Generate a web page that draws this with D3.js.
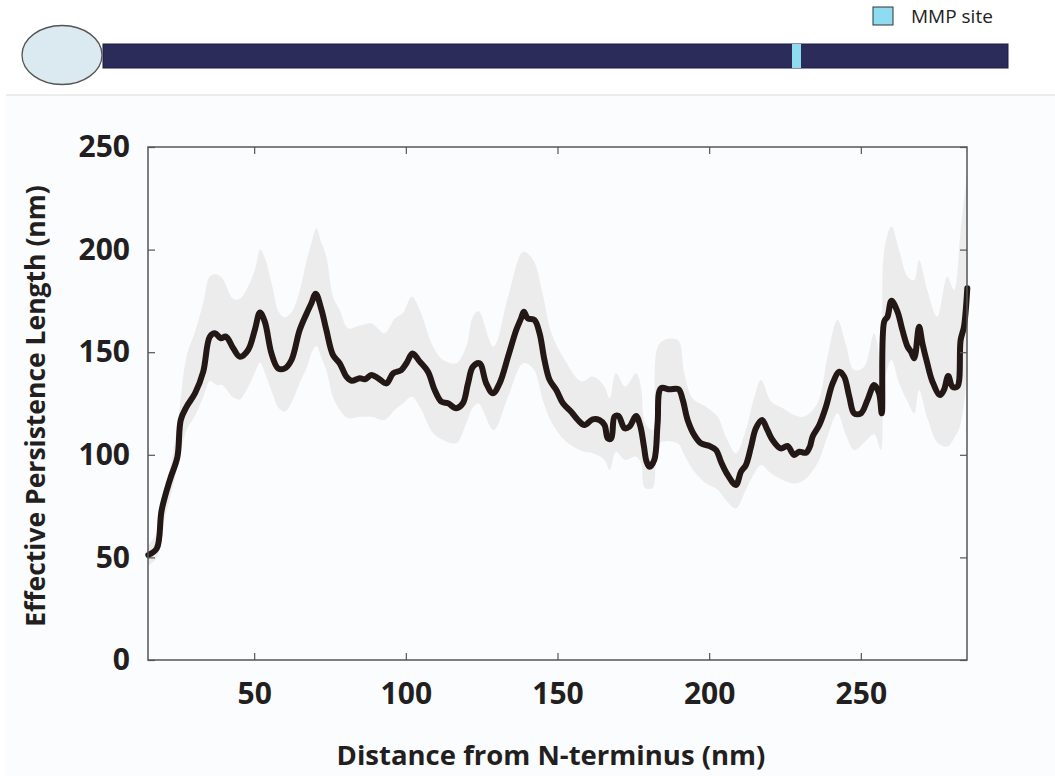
<!DOCTYPE html>
<html>
<head>
    <title>Effective Persistence Length</title>
    <script src="https://d3js.org/d3.v7.min.js"></script>
    <style>
        body { margin: 0; background: #ffffff; }
        text { font-family: "Open Sans", "DejaVu Sans", sans-serif; }
        .tick line { stroke: #555; stroke-width: 1.2; }
        .tick text { fill: #231f20; font-weight: 700; }
    </style>
</head>
<body>
<div id="chart"></div>
<script>
    // Mean persistence length along the molecule
    const distance = [15.1, 17.9, 19.5, 22.2, 24.7, 25.8, 27.7, 30.5, 33.2, 35.4, 37.1, 39, 40.7, 43.1, 45.3, 48, 50.2, 51.9, 53.5, 55.7, 57.9, 60.1, 62.3, 65, 67.3, 68.9, 70.3, 72.2, 73.8, 76, 78.2, 80.4, 82.1, 84.8, 86.5, 88.7, 90.9, 93.6, 95.8, 98.5, 100.2, 102.2, 104.6, 107.3, 109.5, 111.7, 113.9, 116.6, 118.8, 120.5, 122.1, 124.3, 126.5, 128.7, 130.9, 133.7, 136.4, 138, 138.9, 140.2, 142.4, 144.1, 145.7, 147.4, 149.6, 151.8, 154.5, 156.7, 158.9, 161.6, 163.8, 165.5, 166.6, 167.7, 168.8, 170.1, 172.1, 173.7, 175.9, 177.3, 178.5, 179.3, 180.3, 181.9, 183, 184.1, 186.9, 189.9, 191.3, 192.9, 195.1, 197.3, 200.1, 202.3, 203.9, 206.1, 208.8, 210.5, 212.1, 213.8, 215.4, 217.4, 219.2, 220.9, 223.6, 225.8, 228, 229.7, 231.9, 233.2, 234.1, 236.3, 238.5, 240.7, 242.9, 244.5, 246.2, 247.8, 250, 252.2, 254.4, 256, 256.9, 257.7, 258.8, 260.1, 262.1, 263.7, 265.4, 266.5, 267.6, 269.2, 270.3, 271.9, 273.6, 276.1, 277.4, 278.8, 280.2, 281.8, 282.9, 284, 285.1];
    const meanLp = [51.2, 54.4, 73, 87.7, 99, 117, 123.4, 130, 140.5, 157.6, 159.2, 156.8, 157.6, 151.9, 147.8, 151.1, 160.8, 169.3, 164.9, 149.4, 142.1, 142.1, 146.2, 160.8, 168.9, 174, 178.5, 170.6, 160.8, 148.6, 144.6, 138.1, 136.1, 137.3, 136.8, 138.9, 137.3, 134.8, 139.7, 141.3, 144.6, 149.4, 145.4, 140.5, 131.6, 125.9, 125.1, 122.7, 125.1, 134.8, 142.9, 144.6, 134.8, 130, 134.8, 147.8, 160.8, 166.5, 169.7, 166.5, 165.7, 159.2, 146.2, 136.5, 131.6, 125.1, 121, 117, 114.5, 117.3, 117, 114.5, 108, 108, 118.6, 118.9, 112.9, 113.7, 118.9, 114, 104, 97, 94.2, 97.5, 115.3, 132.4, 131.9, 131.9, 126.7, 117, 109.6, 105.6, 104.3, 102.3, 96.6, 90.2, 85.3, 91.8, 95, 103.9, 112.9, 117, 112.1, 107.2, 103.1, 104.3, 99.9, 101.5, 101, 104, 108.9, 114.5, 123.4, 134.8, 140.5, 138.1, 128.3, 120.2, 120.2, 126.7, 134, 130, 120.2, 164.9, 167.3, 175.1, 169.7, 160.8, 152.7, 150.3, 147, 162.4, 154.3, 144.6, 135.7, 129.1, 131.6, 138.4, 133.2, 133.2, 155.9, 162.4, 181.2];

    // Spread band (upper / lower)
    const bandX = [15, 18, 20, 22.5, 25, 27.7, 30.5, 33.2, 35.4, 37.5, 39.5, 43, 45.3, 48, 50.2, 52, 53.5, 56, 58, 60, 62.5, 65, 67.5, 69, 70.5, 72, 73.8, 76, 78.2, 81, 84.8, 88.7, 93, 96.4, 99, 102, 104.6, 109, 112.3, 116.6, 119.9, 122.1, 124, 128.9, 133.7, 138.7, 142, 145.3, 148, 152.4, 157.9, 161.7, 165.5, 167.2, 169.3, 172.3, 175.9, 177.5, 178.8, 181.4, 183.6, 189.6, 191.8, 194.5, 198.9, 202.8, 205.5, 208.8, 212.1, 214.9, 217.1, 220.4, 224.3, 228, 231.3, 235.7, 239, 242.3, 245, 247.8, 251.1, 254.4, 256.6, 257.7, 260.1, 262.6, 265.4, 267.6, 269.2, 271.9, 275.2, 278.5, 280.7, 282.9, 285.1];
    const bandUpper = [56, 62, 80, 95, 118, 148, 160, 174, 187, 188, 186, 176, 176, 182, 190, 200, 196, 182, 170, 167, 170, 180, 196, 204, 210.5, 204, 196.5, 177, 170.6, 161.6, 163, 164, 159.2, 166.5, 169, 177, 170.6, 152.7, 146.2, 144.6, 152.7, 167.3, 170, 152.7, 177, 198.9, 194.9, 177, 159.2, 146.2, 135.7, 138.1, 133.2, 127.5, 139.7, 133.2, 139.7, 133, 116, 112, 154.3, 155.9, 139.7, 127.5, 123.4, 118.6, 108.9, 100.7, 112.1, 128.3, 136.5, 126, 122.7, 119.4, 118.6, 125.1, 147.8, 165.7, 154.3, 141.3, 142.9, 159.2, 144.6, 199.8, 211.2, 199.8, 186.8, 185.2, 194.9, 180.3, 167.3, 186.8, 180.3, 209.5, 237.2];
    const bandLower = [46, 50, 66, 80, 96, 112, 119, 128, 136, 134, 134, 128, 127, 133, 140, 145, 140, 130, 123, 121, 126, 135, 143, 150, 153, 148, 141.3, 128, 122, 117.8, 118.5, 118.6, 117, 122, 125, 128.3, 123.4, 110.5, 107.2, 105.6, 115.3, 123, 125, 112.1, 128.3, 144.6, 142, 126, 116, 107, 102, 100.7, 97.5, 92.6, 101.5, 97.5, 99.1, 96, 84, 84, 105.6, 105.6, 100, 93, 86.1, 83, 78, 73.9, 83, 91, 95, 91, 87.7, 86, 87.7, 95.9, 108.9, 120.2, 110, 102.3, 106, 110, 102.3, 134.8, 146.2, 135, 126, 120.2, 131.6, 118, 106, 104, 108, 115, 141.3];

    const xTicks = [50, 100, 150, 200, 250];
    const yTicks = [0, 50, 100, 150, 200, 250];

    const width = 1055;
    const height = 776;

    const svg = d3.select("#chart")
        .append("svg")
        .attr("width", width)
        .attr("height", height);

    // ---- schematic at the top ----
    svg.append("rect")
        .attr("x", 103).attr("y", 44)
        .attr("width", 905).attr("height", 24)
        .attr("fill", "#2b2c5a")
        .attr("stroke", "#1c1d3d")
        .attr("stroke-width", 1);

    svg.append("rect")
        .attr("x", 792).attr("y", 44)
        .attr("width", 9).attr("height", 24)
        .attr("fill", "#8fdcf0");

    svg.append("ellipse")
        .attr("cx", 62).attr("cy", 55)
        .attr("rx", 40).attr("ry", 29.5)
        .attr("fill", "#dbe9f1")
        .attr("stroke", "#555")
        .attr("stroke-width", 1.3);

    svg.append("rect")
        .attr("x", 873).attr("y", 7)
        .attr("width", 20).attr("height", 18)
        .attr("fill", "#8fdcf0")
        .attr("stroke", "#333")
        .attr("stroke-width", 1);

    svg.append("text")
        .attr("x", 911).attr("y", 23)
        .style("font-size", "19px")
        .style("fill", "#222")
        .text("MMP site");

    // ---- panel background ----
    svg.append("rect")
        .attr("x", 6).attr("y", 95)
        .attr("width", width - 6).attr("height", height - 95)
        .attr("fill", "#fbfcfe");
    svg.append("line")
        .attr("x1", 6).attr("x2", width)
        .attr("y1", 95).attr("y2", 95)
        .attr("stroke", "#dcdcdc");

    // ---- scales ----
    const x = d3.scaleLinear().domain([15, 285]).range([148, 967]);
    const y = d3.scaleLinear().domain([0, 250]).range([660, 147]);

    // band
    const band = d3.area()
        .x((d, i) => x(bandX[i]))
        .y0((d, i) => y(bandLower[i]))
        .y1((d, i) => y(bandUpper[i]))
        .curve(d3.curveCatmullRom.alpha(0.5));

    svg.append("path")
        .datum(bandX)
        .attr("d", band)
        .attr("fill", "#ececec");

    // mean line
    const line = d3.line()
        .x((d, i) => x(distance[i]))
        .y((d, i) => y(meanLp[i]))
        .curve(d3.curveCatmullRom.alpha(0.5));

    svg.append("path")
        .datum(distance)
        .attr("d", line)
        .attr("fill", "none")
        .attr("stroke", "#231815")
        .attr("stroke-width", 6)
        .attr("stroke-linejoin", "round")
        .attr("stroke-linecap", "round");

    // ---- axes (ticks inside on all four sides) ----
    const gx = svg.append("g")
        .attr("transform", "translate(0,660)")
        .call(d3.axisBottom(x).tickValues(xTicks).tickSize(-7).tickPadding(23));
    gx.select(".domain").remove();
    gx.selectAll(".tick text").style("font-size", "30px");

    const gxTop = svg.append("g")
        .attr("transform", "translate(0,147)")
        .call(d3.axisTop(x).tickValues(xTicks).tickSize(-7).tickFormat(""));
    gxTop.select(".domain").remove();

    const gy = svg.append("g")
        .attr("transform", "translate(148,0)")
        .call(d3.axisLeft(y).tickValues(yTicks).tickSize(-7).tickPadding(18));
    gy.select(".domain").remove();
    gy.selectAll(".tick text").style("font-size", "30px");

    const gyRight = svg.append("g")
        .attr("transform", "translate(967,0)")
        .call(d3.axisRight(y).tickValues(yTicks).tickSize(-7).tickFormat(""));
    gyRight.select(".domain").remove();

    // frame
    svg.append("rect")
        .attr("x", 148).attr("y", 147)
        .attr("width", 967 - 148).attr("height", 660 - 147)
        .attr("fill", "none")
        .attr("stroke", "#555")
        .attr("stroke-width", 1.5);

    // ---- axis titles ----
    svg.append("text")
        .attr("x", 551).attr("y", 765)
        .attr("text-anchor", "middle")
        .style("font-size", "27.5px")
        .style("font-weight", "700")
        .style("fill", "#231f20")
        .text("Distance from N-terminus (nm)");

    svg.append("text")
        .attr("transform", "translate(45,406) rotate(-90)")
        .attr("text-anchor", "middle")
        .style("font-size", "26.5px")
        .style("font-weight", "700")
        .style("fill", "#231f20")
        .text("Effective Persistence Length (nm)");
</script>
</body>
</html>
